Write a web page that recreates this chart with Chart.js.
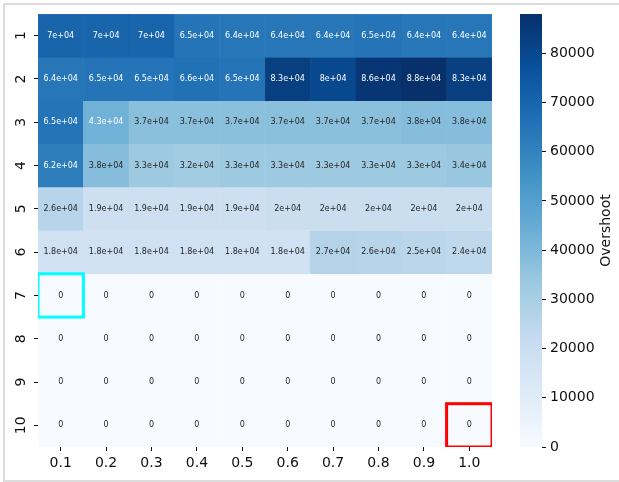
<!DOCTYPE html>
<html>
<head>
<meta charset="utf-8">
<script src="https://cdn.jsdelivr.net/npm/chart.js@4"></script>
<style>
  html, body { margin: 0; padding: 0; background: #fff; width: 619px; height: 482px; overflow: hidden; }
  #frame { position: absolute; left: 3px; top: 3px; width: 700px; height: 475px; border: 2px solid #dcdcdc; }
  #heat { position: absolute; left: 0; top: 0; }
  #cbar { position: absolute; left: 500px; top: 0; }
</style>
</head>
<body>
<div id="frame"></div>
<canvas id="heat" width="619" height="482"></canvas>
<canvas id="cbar" width="119" height="482"></canvas>
<script>
// Column and row labels
const xLabels = ['0.1', '0.2', '0.3', '0.4', '0.5', '0.6', '0.7', '0.8', '0.9', '1.0'];
const rowLabels = [1, 2, 3, 4, 5, 6, 7, 8, 9, 10];

// Overshoot per row (rows 1..10), one value per column
const row1  = [70000, 70000, 70000, 65000, 64000, 64000, 64000, 65000, 64000, 64000];
const row2  = [64000, 65000, 65000, 66000, 65000, 83000, 80000, 86000, 88000, 83000];
const row3  = [65000, 43000, 37000, 37000, 37000, 37000, 37000, 37000, 38000, 38000];
const row4  = [62000, 38000, 33000, 32000, 33000, 33000, 33000, 33000, 33000, 34000];
const row5  = [26000, 19000, 19000, 19000, 19000, 20000, 20000, 20000, 20000, 20000];
const row6  = [18000, 18000, 18000, 18000, 18000, 18000, 27000, 26000, 25000, 24000];
const row7  = [0, 0, 0, 0, 0, 0, 0, 0, 0, 0];
const row8  = [0, 0, 0, 0, 0, 0, 0, 0, 0, 0];
const row9  = [0, 0, 0, 0, 0, 0, 0, 0, 0, 0];
const row10 = [0, 0, 0, 0, 0, 0, 0, 0, 0, 0];
const rows = [row1, row2, row3, row4, row5, row6, row7, row8, row9, row10];

// Colour bar ticks
const cbarTicks = [0, 10000, 20000, 30000, 40000, 50000, 60000, 70000, 80000];

// Outlined cells
const highlights = [
  { row: 7, col: '0.1', color: '#00ffff' },
  { row: 10, col: '1.0', color: '#ff0000' }
];

const vmax = Math.max(...rows.flat());
const vmin = 0;

// "Blues" sequential colour map
const bluesStops = ['#f7fbff', '#deebf7', '#c6dbef', '#9ecae1', '#6baed6', '#4292c6', '#2171b5', '#08519c', '#08306b'];
const bluesRGB = bluesStops.map(h => [1, 3, 5].map(i => parseInt(h.substr(i, 2), 16)));
function blues(t) {
  t = Math.max(0, Math.min(1, t));
  const p = t * (bluesRGB.length - 1);
  const i = Math.min(Math.floor(p), bluesRGB.length - 2);
  const f = p - i;
  return bluesRGB[i].map((c, k) => c + (bluesRGB[i + 1][k] - c) * f);
}
const rgbStr = c => `rgb(${c.map(Math.round).join(',')})`;
function luminance(c) {
  const lin = c.map(v => { v /= 255; return v <= 0.03928 ? v / 12.92 : Math.pow((v + 0.055) / 1.055, 2.4); });
  return 0.2126 * lin[0] + 0.7152 * lin[1] + 0.0722 * lin[2];
}
const norm = v => (v - vmin) / (vmax - vmin);

// two significant digits, printf-style "%g"
function fmtG2(v) {
  if (v === 0) return '0';
  let exp = Math.floor(Math.log10(Math.abs(v)));
  let m = Math.round(v / Math.pow(10, exp) * 10) / 10;
  if (Math.abs(m) >= 10) { m /= 10; exp += 1; }
  if (exp < -4 || exp >= 2) {
    const ms = String(m).replace(/\.0$/, '');
    return ms + 'e' + (exp < 0 ? '-' : '+') + String(Math.abs(exp)).padStart(2, '0');
  }
  return String(parseFloat(v.toPrecision(2)));
}

const FONT = 'DejaVu Sans';
const INK = '#111';

const cellText = {
  id: 'cellText',
  afterDatasetsDraw(chart) {
    const ctx = chart.ctx;
    const xs = chart.scales.x, ys = chart.scales.y;
    ctx.save();
    ctx.font = `8px "${FONT}"`;
    ctx.textAlign = 'center';
    ctx.textBaseline = 'middle';
    chart.data.datasets.forEach((ds, i) => {
      chart.getDatasetMeta(i).data.forEach((el, j) => {
        const v = ds.data[j].v;
        const { x, y, base } = el.getProps(['x', 'y', 'base'], true);
        ctx.fillStyle = luminance(blues(norm(v))) > 0.408 ? '#262626' : '#ffffff';
        ctx.fillText(fmtG2(v), x, (y + base) / 2);
      });
    });
    // outlined cells
    const a = chart.chartArea;
    ctx.beginPath();
    ctx.rect(a.left, a.top, a.right - a.left, a.bottom - a.top);
    ctx.clip();
    const half = (xs.getPixelForValue(1) - xs.getPixelForValue(0)) / 2;
    highlights.forEach(h => {
      const cx = xs.getPixelForValue(xLabels.indexOf(h.col));
      const y0 = ys.getPixelForValue(h.row - 0.5), y1 = ys.getPixelForValue(h.row + 0.5);
      ctx.strokeStyle = h.color;
      ctx.lineWidth = 3;
      ctx.strokeRect(cx - half, Math.min(y0, y1), 2 * half, Math.abs(y1 - y0));
    });
    ctx.restore();
  }
};

new Chart(document.getElementById('heat'), {
  type: 'bar',
  data: {
    labels: xLabels,
    datasets: rows.map((vals, i) => ({
      label: String(rowLabels[i]),
      data: vals.map((v, j) => ({ x: xLabels[j], y: [rowLabels[i] - 0.5, rowLabels[i] + 0.5], v })),
      backgroundColor: ctx => rgbStr(blues(norm(ctx.raw.v))),
      borderColor: ctx => rgbStr(blues(norm(ctx.raw.v))),
      borderWidth: 0.5,
      borderSkipped: false,
      grouped: false,
      barPercentage: 1,
      categoryPercentage: 1
    }))
  },
  options: {
    responsive: false,
    animation: false,
    events: [],
    layout: { padding: { left: 0, top: 14, right: 127, bottom: 0 } },
    plugins: { legend: { display: false }, tooltip: { enabled: false } },
    scales: {
      x: {
        type: 'category',
        offset: true,
        grid: { offset: false, drawOnChartArea: false, tickLength: 4, tickColor: INK, tickWidth: 1 },
        border: { display: false },
        ticks: { font: { family: FONT, size: 14 }, color: INK, padding: 4, minRotation: 0, maxRotation: 0 },
        afterFit(s) { s.height = 35; }
      },
      y: {
        type: 'linear',
        min: 0.5,
        max: 10.5,
        reverse: true,
        afterBuildTicks(s) { s.ticks = rowLabels.map(v => ({ value: v })); },
        grid: { drawOnChartArea: false, tickLength: 4, tickColor: INK, tickWidth: 1 },
        border: { display: false },
        ticks: {
          font: { family: FONT, size: 14 }, color: INK, padding: 4,
          minRotation: 90, maxRotation: 90, crossAlign: 'center',
          callback: v => String(v)
        },
        afterFit(s) { s.width = 38; }
      }
    }
  },
  plugins: [cellText]
});

// colour bar
const cbarTitle = {
  id: 'cbarTitle',
  afterDraw(chart) {
    const ctx = chart.ctx;
    const a = chart.chartArea;
    ctx.save();
    ctx.translate(106, (a.top + a.bottom) / 2);
    ctx.rotate(-Math.PI / 2);
    ctx.font = `14px "${FONT}"`;
    ctx.fillStyle = INK;
    ctx.textAlign = 'center';
    ctx.textBaseline = 'middle';
    ctx.fillText('Overshoot', 0, 0);
    ctx.restore();
  }
};

new Chart(document.getElementById('cbar'), {
  type: 'bar',
  data: {
    labels: [''],
    datasets: [{
      data: [[vmin, vmax]],
      backgroundColor: ctx => {
        const a = ctx.chart.chartArea;
        if (!a) return bluesStops[4];
        const g = ctx.chart.ctx.createLinearGradient(0, a.bottom, 0, a.top);
        bluesStops.forEach((c, k) => g.addColorStop(k / (bluesStops.length - 1), c));
        return g;
      },
      borderWidth: 0,
      barPercentage: 1,
      categoryPercentage: 1
    }]
  },
  options: {
    responsive: false,
    animation: false,
    events: [],
    layout: { padding: { left: 20, top: 14, right: 0, bottom: 35 } },
    plugins: { legend: { display: false }, tooltip: { enabled: false } },
    scales: {
      x: { display: false },
      y: {
        position: 'right',
        min: vmin,
        max: vmax,
        afterBuildTicks(s) { s.ticks = cbarTicks.map(v => ({ value: v })); },
        grid: { drawOnChartArea: false, tickLength: 4, tickColor: INK, tickWidth: 1 },
        border: { display: false },
        ticks: { font: { family: FONT, size: 14 }, color: INK, padding: 4, callback: v => String(v) },
        afterFit(s) { s.width = 77; }
      }
    }
  },
  plugins: [cbarTitle]
});
</script>
</body>
</html>
